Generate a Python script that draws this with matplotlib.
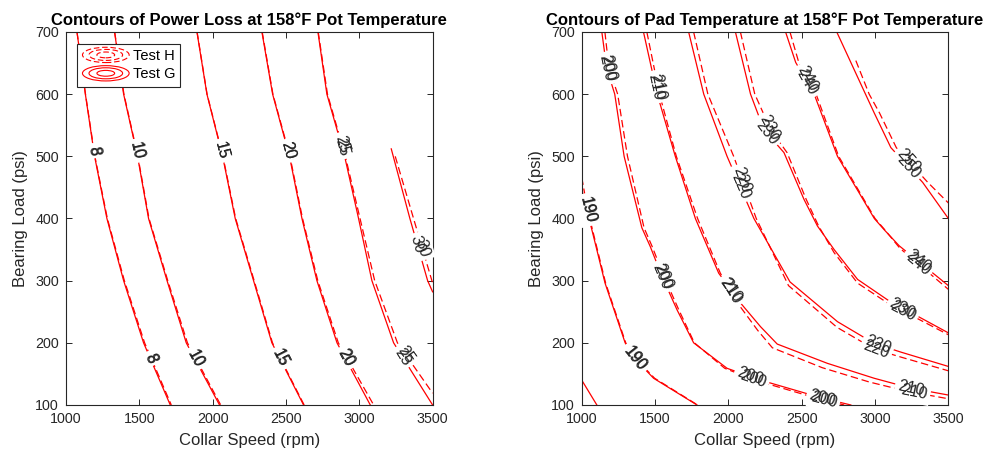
import numpy as np
import matplotlib.pyplot as plt
from matplotlib.patches import Ellipse
from matplotlib.lines import Line2D
from matplotlib.legend_handler import HandlerBase

plt.rcParams['font.family'] = ['Liberation Sans', 'DejaVu Sans']

# ---- power loss contours (left panel) ----
loss_levels = [8, 10, 15, 20, 25, 30]
std_loads = [700, 600, 500, 400, 300, 200, 100]

# Test G (solid)
loss_g_speed = [
    [1075, 1132, 1195, 1279, 1393, 1529, 1711],
    [1331, 1393, 1488, 1563, 1689, 1820, 2047],
    [1893, 1961, 2068, 2154, 2279, 2404, 2620],
    [2336, 2409, 2524, 2609, 2711, 2848, 3075],
    [2718, 2779, 2900, 2995, 3086, 3234, 3500],
    [3218, 3345, 3466, 3500],
]
loss_g_load = [std_loads, std_loads, std_loads, std_loads, std_loads,
               [512, 400, 300, 282]]

# Test H (dashed)
loss_h_speed = [
    [1075, 1133, 1197, 1282, 1398, 1536, 1718],
    [1332, 1395, 1490, 1566, 1694, 1828, 2055],
    [1894, 1962, 2070, 2157, 2283, 2408, 2624],
    [2338, 2411, 2527, 2613, 2717, 2857, 3098],
    [2720, 2783, 2905, 3005, 3105, 3260, 3500],
    [3245, 3370, 3500],
]
loss_h_load = [std_loads, std_loads, std_loads, std_loads,
               [700, 600, 500, 400, 300, 200, 119],
               [500, 400, 296]]

loss_g_label_loads = [[509, 175], [509, 175], [509, 175], [509, 176],
                      [514, 177], [358]]
loss_h_label_loads = [[509, 175], [509, 175], [509, 175], [509, 176],
                      [520, 181], [352]]

# ---- pad temperature contours (right panel) ----
pad_levels = [180, 190, 200, 210, 220, 230, 240, 250]

pad_g_speed = [
    [1000, 1103],
    [1000, 1035, 1091, 1159, 1296, 1360, 1490, 1786],
    [1137, 1170, 1225, 1289, 1410, 1467, 1547, 1650, 1763, 1991, 2219,
     2641, 2835],
    [1421, 1515, 1638, 1775, 1934, 2083, 2219, 2333, 2675, 2994, 3245, 3500],
    [1729, 1832, 1991, 2174, 2420, 2744, 2994, 3177, 3500],
    [2048, 2151, 2242, 2379, 2515, 2607, 2721, 2881, 3086, 3500],
    [2390, 2459, 2585, 2744, 2995, 3062, 3165, 3500],
    [2739, 2835, 2935, 2994, 3108, 3325, 3500],
]
pad_g_load = [
    [140, 100],
    [447, 414, 361, 296, 200, 175, 143, 100],
    [700, 642, 600, 500, 385, 355, 307, 253, 200, 159, 140, 111, 100],
    [700, 600, 500, 400, 312, 264, 226, 198, 167, 143, 127, 116],
    [700, 600, 500, 400, 298, 234, 199, 185, 162],
    [700, 600, 543, 506, 431, 388, 350, 302, 269, 216],
    [700, 651, 600, 500, 400, 382, 356, 292],
    [700, 651, 600, 570, 514, 458, 400],
]

pad_h_speed = [
    [],
    [1000, 1040, 1095, 1163, 1300, 1366, 1497, 1790],
    [1158, 1185, 1245, 1312, 1425, 1480, 1560, 1662, 1768, 1975, 2180,
     2600, 2790],
    [1444, 1530, 1645, 1790, 1945, 2075, 2200, 2300, 2640, 2960, 3220, 3500],
    [1763, 1860, 2036, 2190, 2410, 2740, 2994, 3177, 3500],
    [2082, 2180, 2288, 2400, 2530, 2615, 2721, 2881, 3086, 3500],
    [2420, 2480, 2598, 2752, 3000, 3066, 3170, 3500],
    [2869, 2960, 3030, 3145, 3360, 3500],
]
pad_h_load = [
    [],
    [466, 414, 361, 296, 200, 175, 143, 100],
    [700, 642, 600, 500, 385, 355, 307, 253, 200, 159, 140, 111, 100],
    [700, 600, 500, 400, 312, 260, 220, 192, 160, 137, 122, 110],
    [700, 600, 500, 400, 292, 225, 190, 177, 155],
    [700, 600, 543, 506, 431, 388, 345, 296, 264, 213],
    [700, 651, 600, 500, 400, 382, 352, 286],
    [654, 600, 570, 514, 458, 425],
]

pad_g_label_loads = [[], [414, 175], [642, 307, 146, 111], [612, 285, 127],
                     [451, 197], [538, 256], [619, 331], [483]]
pad_h_label_loads = [[], [414, 175], [642, 307, 141, 108], [612, 283, 120],
                     [462, 189], [546, 251], [625, 327], [492]]

speed_ticks = [1000, 1500, 2000, 2500, 3000, 3500]
load_ticks = [100, 200, 300, 400, 500, 600, 700]

AX_COLOR = '#262626'


class ContourLegendHandler(HandlerBase):
    """draws the concentric-ellipse key used by matlab contour legends"""

    def create_artists(self, legend, orig_handle, xdescent, ydescent,
                       width, height, fontsize, trans):
        cx = width / 2 - xdescent
        cy = height / 2 - ydescent
        ls = (0, (5, 2.5)) if orig_handle.get_linestyle() == '--' else '-'
        arts = []
        for f in (1.0, 0.72, 0.38):
            e = Ellipse((cx, cy), width * f, height * 1.5 * f, fill=False,
                        ec='red', lw=0.8, ls=ls, transform=trans)
            arts.append(e)
        return arts


def draw_contours(ax, speeds, loads, dashed):
    for x, y in zip(speeds, loads):
        if len(x) == 0:
            continue
        ax.plot(x, y, color='red', lw=0.9,
                ls=(0, (6, 3)) if dashed else '-', zorder=2)


def label_contours(ax, levels, speeds, loads, label_loads):
    for lev, x, y, at in zip(levels, speeds, loads, label_loads):
        if len(x) == 0:
            continue
        xs = np.array(x[::-1], dtype=float)
        ys = np.array(y[::-1], dtype=float)
        for yl in at:
            xl = np.interp(yl, ys, xs)
            y0 = min(yl + 8, ys[-1])
            y1 = max(yl - 8, ys[0])
            p0 = ax.transData.transform((np.interp(y0, ys, xs), y0))
            p1 = ax.transData.transform((np.interp(y1, ys, xs), y1))
            ang = np.degrees(np.arctan2(p1[1] - p0[1], p1[0] - p0[0]))
            if ang > 90:
                ang -= 180
            elif ang <= -90:
                ang += 180
            kw = dict(rotation=ang, rotation_mode='anchor', ha='center',
                      va='center', fontsize=11.5)
            # white gap in the lines, then the label on top of every gap
            ax.text(xl, yl, str(lev), color='none', zorder=3,
                    bbox=dict(fc='white', ec='none', pad=2.2), **kw)
            ax.text(xl, yl, str(lev), color=AX_COLOR, zorder=4, **kw)


def style_axes(ax, title):
    ax.set_xlim(1000, 3500)
    ax.set_ylim(100, 700)
    ax.set_xticks(speed_ticks)
    ax.set_yticks(load_ticks)
    ax.tick_params(direction='in', length=4, width=0.7, labelsize=10.3,
                   colors=AX_COLOR, top=True, right=True, pad=5)
    for s in ax.spines.values():
        s.set_color(AX_COLOR)
        s.set_linewidth(0.8)
    ax.set_xlabel('Collar Speed (rpm)', fontsize=12, color=AX_COLOR,
                  labelpad=5)
    ax.set_ylabel('Bearing Load (psi)', fontsize=12, color=AX_COLOR,
                  labelpad=5)
    ax.set_title(title, fontsize=12, fontweight='bold', pad=5)


def main():
    fig = plt.figure(figsize=(9.85, 4.53), dpi=100)
    ax1 = fig.add_axes([0.0670, 0.1060, 0.3722, 0.8234])
    ax2 = fig.add_axes([0.5906, 0.1060, 0.3722, 0.8234])

    style_axes(ax1, 'Contours of Power Loss at 158°F Pot Temperature')
    style_axes(ax2, 'Contours of Pad Temperature at 158°F Pot Temperature')

    # left: power loss
    draw_contours(ax1, loss_h_speed, loss_h_load, dashed=True)
    draw_contours(ax1, loss_g_speed, loss_g_load, dashed=False)
    label_contours(ax1, loss_levels, loss_h_speed, loss_h_load,
                   loss_h_label_loads)
    label_contours(ax1, loss_levels, loss_g_speed, loss_g_load,
                   loss_g_label_loads)

    # right: pad temperature
    draw_contours(ax2, pad_h_speed, pad_h_load, dashed=True)
    draw_contours(ax2, pad_g_speed, pad_g_load, dashed=False)
    label_contours(ax2, pad_levels, pad_h_speed, pad_h_load,
                   pad_h_label_loads)
    label_contours(ax2, pad_levels, pad_g_speed, pad_g_load,
                   pad_g_label_loads)

    handles = [Line2D([], [], color='red', ls='--'),
               Line2D([], [], color='red', ls='-')]
    leg = ax1.legend(handles, ['Test H', 'Test G'], loc='upper left',
                     bbox_to_anchor=(0.031, 0.968), borderaxespad=0,
                     fontsize=10.5, handlelength=3.2, handletextpad=0.25,
                     labelspacing=0.3, borderpad=0.35, fancybox=False,
                     framealpha=1, edgecolor=AX_COLOR,
                     handler_map={Line2D: ContourLegendHandler()})
    leg.get_frame().set_linewidth(0.8)
    leg.set_zorder(5)

    fig.savefig('out.png', dpi=100)


if __name__ == '__main__':
    main()
